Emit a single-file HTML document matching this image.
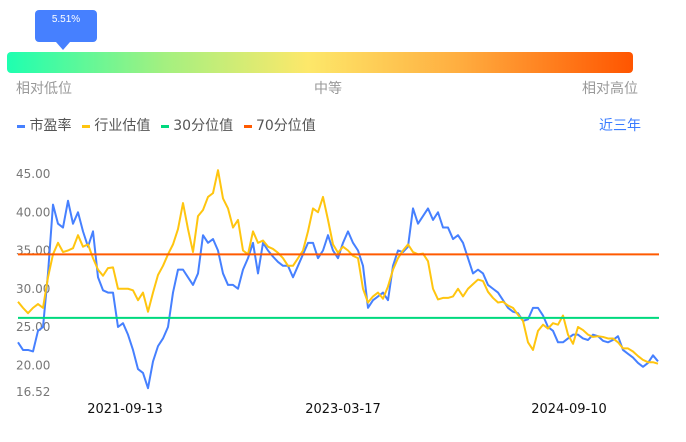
<!DOCTYPE html>
<html><head><meta charset="utf-8">
<style>
body{margin:0;width:686px;height:442px;background:#fff;font-family:"Liberation Sans","Noto Sans CJK SC",sans-serif;overflow:hidden;position:relative}
.abs{position:absolute}
.lg{margin-right:6px}
</style></head><body>
<div class="abs" style="left:35px;top:10px;width:62px;height:32px;background:#4680ff;border-radius:4px;color:#fff;font-size:10px;text-align:center;line-height:20px">5.51%</div>
<div class="abs" style="left:56px;top:42px;width:0;height:0;border-left:7px solid transparent;border-right:7px solid transparent;border-top:8px solid #4680ff"></div>
<div class="abs" style="left:7px;top:52px;width:626px;height:21px;border-radius:4px;background:linear-gradient(90deg,#1effb0 0%,#a3f080 25%,#fde86a 48%,#ffae40 72%,#ff5500 100%)"></div>
<div class="abs" style="left:16px;top:78px;font-size:14px;color:#999">相对低位</div>
<div class="abs" style="left:314px;top:78px;font-size:14px;color:#999">中等</div>
<div class="abs" style="left:582px;top:78px;font-size:14px;color:#999">相对高位</div>
<div class="abs" style="left:17px;top:115px;font-size:14px;color:#555;white-space:nowrap;font-family:'DejaVu Sans','Noto Sans CJK SC',sans-serif">
<span class="lg"><span style="display:inline-block;width:8px;height:3px;background:#4680ff;vertical-align:middle"></span> 市盈率</span>
<span class="lg"><span style="display:inline-block;width:8px;height:3px;background:#ffc50f;vertical-align:middle"></span> 行业估值</span>
<span class="lg"><span style="display:inline-block;width:8px;height:3px;background:#00d97e;vertical-align:middle"></span> 30分位值</span>
<span class="lg"><span style="display:inline-block;width:8px;height:3px;background:#ff5a00;vertical-align:middle"></span> 70分位值</span>
</div>
<div class="abs" style="left:599px;top:115px;font-size:14px;color:#3a7bff">近三年</div>
<svg class="abs" style="left:0;top:0;font-family:'DejaVu Sans',sans-serif" width="686" height="442" id="chart"></svg>
<script>
const pe=[23,22,22,21.8,24.5,25,32,41,38.5,38,41.5,38.5,40,37.5,35.5,37.5,31.5,29.8,29.5,29.5,25,25.5,24,22,19.5,19,17,20.5,22.5,23.5,25,29.5,32.5,32.5,31.5,30.5,32,37,36,36.5,35,32,30.5,30.5,30,32.5,34,36,32,36,35,34.2,33.5,33,33,31.5,33,34.5,36,36,34,35,37,35,34,36,37.5,36,35,33,27.5,28.5,29,29.5,28.5,33,35,34.8,35.5,40.5,38.5,39.5,40.5,39,40,38,38,36.5,37,36,34,32,32.5,32,30.5,30,29.5,28.5,27.5,27,26.8,25.8,26,27.5,27.5,26.5,25,24.5,23,23,23.5,24,24,23.5,23.3,24,23.8,23.2,23,23.3,23.8,22,21.5,21,20.3,19.8,20.3,21.3,20.5];
const industry=[28.3,27.5,26.8,27.5,28,27.5,31.5,34.5,36,34.8,35,35.3,37,35.5,35.8,34,32.5,31.7,32.7,32.8,30,30,30,29.8,28.5,29.5,27,29.5,31.8,33,34.5,35.8,37.8,41.2,37.8,34.8,39.5,40.3,42,42.5,45.5,41.8,40.5,38,39,35,34.5,37.5,36,36.3,35.5,35.2,34.7,34,33,33,34,35,37.5,40.5,40,42,39,35.8,34.7,35.5,35,34.3,34,30,28.2,29,29.5,28.7,30.3,32.5,34,35,35.8,34.8,34.5,34.6,33.6,30,28.6,28.8,28.8,29,30,29,30,30.6,31.2,31,29.6,28.8,28.2,28.3,27.8,27.5,26.6,25.8,23,22,24.5,25.3,24.8,25.5,25.3,26.5,24,22.8,25,24.6,24,23.7,23.8,23.7,23.5,23.5,23,22.2,22.2,21.8,21.2,20.7,20.4,20.4,20.2];
const p30=26.2, p70=34.5;
const yTicks=[45,40,35,30,25,20,16.52];
const xTickLabels=["2021-09-13","2023-03-17","2024-09-10"];
const xTickIdx=[21.4,65,110.2];
const svg=document.getElementById('chart'),NS='http://www.w3.org/2000/svg';
const X0=18,X1=658,Y45=174,PPU=7.65;
const xs=i=>X0+i*(X1-X0)/(pe.length-1);
const ys=v=>Y45+(45-v)*PPU;
function mk(t,a){const e=document.createElementNS(NS,t);for(const k in a)e.setAttribute(k,a[k]);svg.appendChild(e);return e;}
yTicks.forEach(v=>{const t=mk('text',{x:16,y:ys(v)+4,'font-size':12,fill:'#777'});t.textContent=v.toFixed(2);

});
xTickLabels.forEach((l,i)=>{const t=mk('text',{x:xs(xTickIdx[i]),y:413,'font-size':13,fill:'#111','text-anchor':'middle'});t.textContent=l;

});
function line(arr,c,name){const p=mk('polyline',{points:arr.map((v,i)=>xs(i)+','+ys(v)).join(' '),fill:'none',stroke:c,'stroke-width':2,'stroke-linejoin':'round'});

}
line(pe,'#4680ff','pe-line');
line(industry,'#ffc50f','industry-line');
const g=mk('line',{x1:X0,x2:659,y1:ys(p30),y2:ys(p30),stroke:'#00d97e','stroke-width':2});


const o=mk('line',{x1:X0,x2:659,y1:ys(p70),y2:ys(p70),stroke:'#ff5a00','stroke-width':2});


</script>
</body></html>
